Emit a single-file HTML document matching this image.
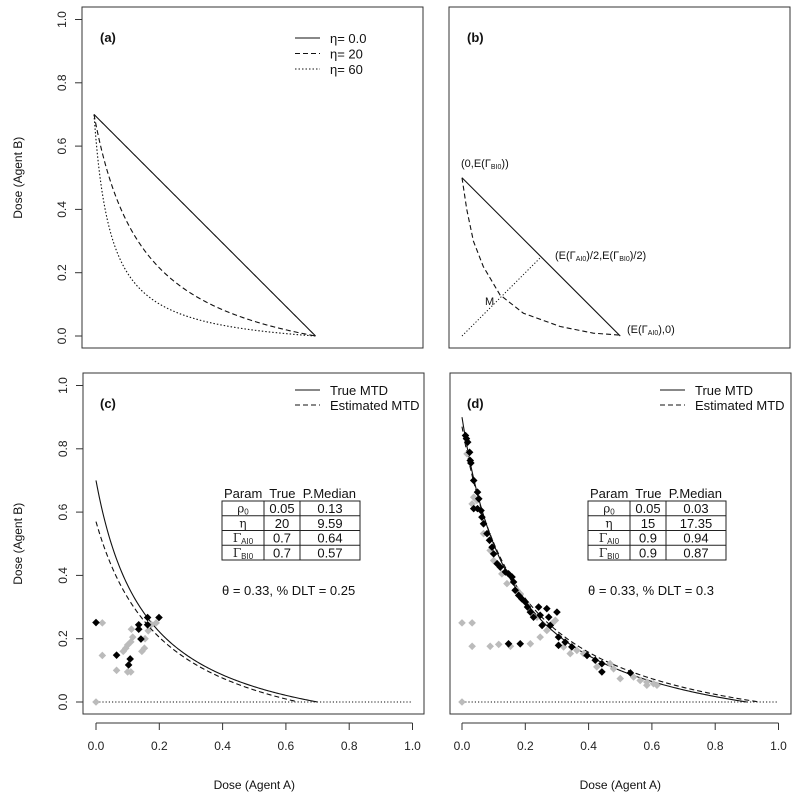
<!DOCTYPE html>
<html><head><meta charset="utf-8"><style>
html,body{margin:0;padding:0;background:#fff}
svg{display:block;font-family:"Liberation Sans",Arial,sans-serif}
</style></head><body>
<svg id="fig" width="800" height="799" viewBox="0 0 800 799" xmlns="http://www.w3.org/2000/svg"></svg>
<script>
// ---- data ----
const tickValues = [0, 0.2, 0.4, 0.6, 0.8, 1.0];
const tickLabels = ["0.0", "0.2", "0.4", "0.6", "0.8", "1.0"];
const thetaTarget = 0.33;
// panel (a): eta values, gamma A/B, rho0
const etaA = [0, 20, 60];
const etaALabels = ["\u03B7= 0.0", "\u03B7= 20", "\u03B7= 60"];
const gammaA_a = 0.7;
const gammaB_a = 0.7;
const rho0_a = 0.05;
// panel (b)
const gammaA_b = 0.5;
const gammaB_b = 0.5;
const bCurveX = [0, 0.015, 0.036, 0.067, 0.12, 0.194, 0.31, 0.415, 0.495];
const bCurveY = [0.5, 0.40, 0.30, 0.22, 0.13, 0.072, 0.03, 0.009, 0.003];
// panel (c): [rho0, eta, gammaA, gammaB]
const trueC = [0.05, 20, 0.7, 0.7];
const estC = [0.13, 9.59, 0.64, 0.57];
const dltC = "0.25";
const cBlackX = [0, 0.065, 0.103, 0.108, 0.135, 0.135, 0.142, 0.163, 0.163, 0.199];
const cBlackY = [0.251, 0.148, 0.117, 0.136, 0.244, 0.23, 0.199, 0.267, 0.244, 0.267];
const cGrayX = [0.02, 0.02, 0.065, 0.086, 0.094, 0.10, 0.11, 0.10, 0.11, 0.112, 0.116, 0.145, 0.153, 0.155, 0.165, 0.175, 0.19, 0];
const cGrayY = [0.25, 0.147, 0.1, 0.16, 0.17, 0.18, 0.19, 0.095, 0.095, 0.23, 0.205, 0.16, 0.17, 0.2, 0.225, 0.245, 0.25, 0];
// panel (d)
const trueD = [0.05, 15, 0.9, 0.9];
const estD = [0.03, 17.35, 0.94, 0.87];
const dltD = "0.3";
const dBlackX = [.011,.014,.018,.024,.026,.028,.037,.049,.053,.037,.049,.060,.063,.068,.079,.087,.095,.100,.111,.121,.137,.147,.158,.163,.168,.179,.189,.2,.207,.216,.226,.242,.268,.3,.247,.253,.279,.274,.305,.305,.326,.347,.395,.421,.442,.442,.532,.147,.184];
const dBlackY = [.842,.832,.821,.789,.763,.755,.700,.663,.642,.611,.611,.605,.584,.563,.532,.511,.489,.468,.437,.426,.411,.405,.395,.379,.353,.337,.326,.316,.3,.284,.268,.3,.295,.284,.274,.242,.242,.268,.205,.179,.189,.174,.147,.132,.121,.095,.092,.184,.184];
const dGrayX = [0,.032,.032,.089,.116,.153,.216,.247,.268,.284,.295,.037,.032,.047,.016,.068,.089,.1,.126,.142,.174,.184,.205,.237,.321,.342,.363,.384,.426,.468,.479,.5,.542,.563,.584,.584,.605,.616,0];
const dGrayY = [.25,.25,.176,.176,.182,.176,.184,.205,.226,.247,.258,.647,.626,.637,.784,.532,.479,.447,.405,.374,.353,.342,.311,.268,.174,.153,.163,.153,.111,.121,.105,.074,.079,.068,.063,.053,.058,.053,0];

// ---- helpers ----
const NS = "http://www.w3.org/2000/svg";
const svg = document.getElementById("fig");
function mk(tag, attrs, parent) {
  const e = document.createElementNS(NS, tag);
  for (const k in attrs) e.setAttribute(k, attrs[k]);
  (parent || svg).appendChild(e);
  return e;
}
function logit(p) { return Math.log(p / (1 - p)); }
function mtd(x, p) {
  const L = logit(thetaTarget) - logit(p[0]);
  return p[3] * (1 - x / p[2]) / (1 + p[1] * p[3] * x / L);
}
const panels = {
  a: {bx: 82, by: 7, x0: 94, y0: 336},
  b: {bx: 449, by: 7, x0: 462, y0: 336},
  c: {bx: 83, by: 373, x0: 96, y0: 702},
  d: {bx: 450, by: 373, x0: 462, y0: 702}
};
const S = 316.5;
function sx(P, v) { return P.x0 + v * S; }
function sy(P, v) { return P.y0 - v * S; }
function box(P, name) {
  const r = mk("rect", {x: P.bx, y: P.by, width: 341, height: 341, fill: "none", stroke: "#333", "stroke-width": 1});
  
  
}
function txt(x, y, s, size, extra, name) {
  const t = mk("text", Object.assign({x: x, y: y, "font-size": size, fill: "#111"}, extra || {}));
  t.textContent = s;
  
  
  return t;
}
function pathOf(P, xs, ys) {
  return xs.map((x, i) => (i ? "L" : "M") + sx(P, x).toFixed(2) + "," + sy(P, ys[i]).toFixed(2)).join("");
}
function mtdCurve(P, p, dash, name) {
  const xs = [], ys = [];
  for (let i = 0; i <= 200; i++) { const x = p[2] * i / 200; xs.push(x); ys.push(mtd(x, p)); }
  const e = mk("path", {d: pathOf(P, xs, ys), fill: "none", stroke: "#111", "stroke-width": 1.1, "stroke-dasharray": dash});
  
  
}
function yAxis(P, name) {
  const g = mk("g", {});
  
  
  mk("line", {x1: P.bx, x2: P.bx, y1: sy(P, 0), y2: sy(P, 1), stroke: "#333"}, g);
  tickValues.forEach((v, i) => {
    mk("line", {x1: P.bx - 7, x2: P.bx, y1: sy(P, v), y2: sy(P, v), stroke: "#333"}, g);
    const t = mk("text", {x: 0, y: 0, "font-size": 12, fill: "#222", "text-anchor": "middle",
      transform: "translate(" + (P.bx - 16) + "," + sy(P, v) + ") rotate(-90) translate(0,0)"}, g);
    t.textContent = tickLabels[i];
  });
  txt(0, 0, "Dose (Agent B)", 12, {"text-anchor": "middle", transform: "translate(22," + sy(P, 0.5) + ") rotate(-90)"}, name + "-title");
}
function xAxis(P, name) {
  const g = mk("g", {});
  
  
  const ty = P.by + 341 + 9;
  mk("line", {x1: sx(P, 0), x2: sx(P, 1), y1: ty, y2: ty, stroke: "#333"}, g);
  tickValues.forEach((v, i) => {
    mk("line", {x1: sx(P, v), x2: sx(P, v), y1: ty, y2: ty + 7, stroke: "#333"}, g);
    const t = mk("text", {x: sx(P, v), y: ty + 27, "font-size": 12, fill: "#222", "text-anchor": "middle"}, g);
    t.textContent = tickLabels[i];
  });
  txt(sx(P, 0.5), 789, "Dose (Agent A)", 12, {"text-anchor": "middle"}, name + "-title");
}
function diamonds(P, xs, ys, color, name) {
  const g = mk("g", {fill: color});
  
  
  xs.forEach((x, i) => {
    const cx = sx(P, x), cy = sy(P, ys[i]), r = 3.8;
    mk("path", {d: `M${cx},${cy - r}L${cx + r},${cy}L${cx},${cy + r}L${cx - r},${cy}Z`}, g);
  });
}
function legendLine(x1, y, dash, label, name) {
  const l = mk("line", {x1: x1, x2: x1 + 25, y1: y, y2: y, stroke: "#111", "stroke-width": 1.1, "stroke-dasharray": dash});
  
  
  txt(x1 + 35, y + 5, label, 13, {}, name);
}
function table(P, tx, vals, tr, es, dlt, name) {
  const g = mk("g", {});
  
  
  const x = tx, w = 138, top = 501, rh = 14.75, c1 = 42, c2 = 78;
  const h = mk("text", {x: x + 2, y: 498, "font-size": 13, fill: "#111"}, g);
  h.textContent = "Param\u00A0 True\u00A0 P.Median";
  mk("rect", {x: x, y: top, width: w, height: rh * 4, fill: "none", stroke: "#222"}, g);
  for (let i = 1; i < 4; i++) mk("line", {x1: x, x2: x + w, y1: top + rh * i, y2: top + rh * i, stroke: "#222"}, g);
  mk("line", {x1: x + c1, x2: x + c1, y1: top, y2: top + rh * 4, stroke: "#222"}, g);
  mk("line", {x1: x + c2, x2: x + c2, y1: top, y2: top + rh * 4, stroke: "#222"}, g);
  const names = [["\u03C1", "0"], ["\u03B7", ""], ["\u0393", "AI0"], ["\u0393", "BI0"]];
  names.forEach((n, i) => {
    const t = mk("text", {x: x + c1 / 2, y: top + rh * i + 11.5, "font-size": 12, fill: "#222", "text-anchor": "middle", "font-family": "DejaVu Serif, serif"}, g);
    t.textContent = n[0];
    if (n[1]) { const s = mk("tspan", {"font-size": 8, "font-family": "Liberation Sans, sans-serif", dy: 2}, t); s.textContent = n[1]; }
    const a = mk("text", {x: x + (c1 + c2) / 2, y: top + rh * i + 12, "font-size": 13, fill: "#111", "text-anchor": "middle"}, g);
    a.textContent = String(tr[i]);
    const b = mk("text", {x: x + (c2 + w) / 2, y: top + rh * i + 12, "font-size": 13, fill: "#111", "text-anchor": "middle"}, g);
    b.textContent = String(es[i]);
  });
  txt(x, 595, "\u03B8 = " + thetaTarget + ", % DLT = " + dlt, 13, {}, name + "-summary");
}

// ---- panel a ----
let P = panels.a;
box(P, "panel-a-frame");
yAxis(P, "panel-a-y-axis");
const dashes = ["", "5,3", "1.5,2"];
etaA.forEach((e, i) => mtdCurve(P, [rho0_a, e, gammaA_a, gammaB_a], dashes[i], "panel-a-curve-eta-" + e));
txt(100, 42, "(a)", 13, {"font-weight": "bold"}, "panel-a-label");
etaALabels.forEach((s, i) => legendLine(295, 38 + i * 15.5, dashes[i], s, "legend-eta-" + etaA[i]));

// ---- panel b ----
P = panels.b;
box(P, "panel-b-frame");
txt(467, 42, "(b)", 13, {"font-weight": "bold"}, "panel-b-label");
let e = mk("path", {d: pathOf(P, [0, gammaA_b], [gammaB_b, 0]), stroke: "#111", fill: "none", "stroke-width": 1.1});


e = mk("path", {d: pathOf(P, bCurveX, bCurveY), stroke: "#111", fill: "none", "stroke-width": 1.1, "stroke-dasharray": "5,3"});


e = mk("path", {d: pathOf(P, [0, gammaA_b / 2], [0, gammaB_b / 2]), stroke: "#111", fill: "none", "stroke-width": 1, "stroke-dasharray": "1.2,2"});


function gammaLabel(x, y, parts, name) {
  const t = txt(x, y, "", 11, {}, name);
  parts.forEach(p => { const s = mk("tspan", p[1] ? {"font-size": 7, dy: 2} : {dy: p[2] || 0}, t); s.textContent = p[0]; });
}
gammaLabel(461, 167, [["(0,E(\u0393"], ["BI0", 1], ["))", 0, -2]], "label-point-b");
gammaLabel(555, 259, [["(E(\u0393"], ["AI0", 1], [")/2,E(\u0393", 0, -2], ["BI0", 1], [")/2)", 0, -2]], "label-midpoint");
gammaLabel(627, 333, [["(E(\u0393"], ["AI0", 1], ["),0)", 0, -2]], "label-point-a");
txt(485, 305, "M", 11, {}, "label-m");

// ---- panel c ----
P = panels.c;
box(P, "panel-c-frame");
yAxis(P, "panel-c-y-axis");
xAxis(P, "panel-c-x-axis");
e = mk("line", {x1: sx(P, 0), x2: sx(P, 1), y1: sy(P, 0), y2: sy(P, 0), stroke: "#111", "stroke-dasharray": "1.2,2"});


mtdCurve(P, trueC, "", "panel-c-true-mtd");
mtdCurve(P, estC, "5,3", "panel-c-estimated-mtd");
diamonds(P, cGrayX, cGrayY, "#bbb", "panel-c-gray-points");
diamonds(P, cBlackX, cBlackY, "#000", "panel-c-black-points");
txt(100, 408, "(c)", 13, {"font-weight": "bold"}, "panel-c-label");
legendLine(295, 390, "", "True MTD", "legend-c-true");
legendLine(295, 405, "5,3", "Estimated MTD", "legend-c-estimated");
table(P, 222, null, trueC, estC, dltC, "panel-c-table");

// ---- panel d ----
P = panels.d;
box(P, "panel-d-frame");
xAxis(P, "panel-d-x-axis");
e = mk("line", {x1: sx(P, 0), x2: sx(P, 1), y1: sy(P, 0), y2: sy(P, 0), stroke: "#111", "stroke-dasharray": "1.2,2"});


mtdCurve(P, trueD, "", "panel-d-true-mtd");
mtdCurve(P, estD, "5,3", "panel-d-estimated-mtd");
diamonds(P, dGrayX, dGrayY, "#bbb", "panel-d-gray-points");
diamonds(P, dBlackX, dBlackY, "#000", "panel-d-black-points");
txt(467, 408, "(d)", 13, {"font-weight": "bold"}, "panel-d-label");
legendLine(660, 390, "", "True MTD", "legend-d-true");
legendLine(660, 405, "5,3", "Estimated MTD", "legend-d-estimated");
table(P, 588, null, trueD, estD, dltD, "panel-d-table");
</script>
</body></html>
